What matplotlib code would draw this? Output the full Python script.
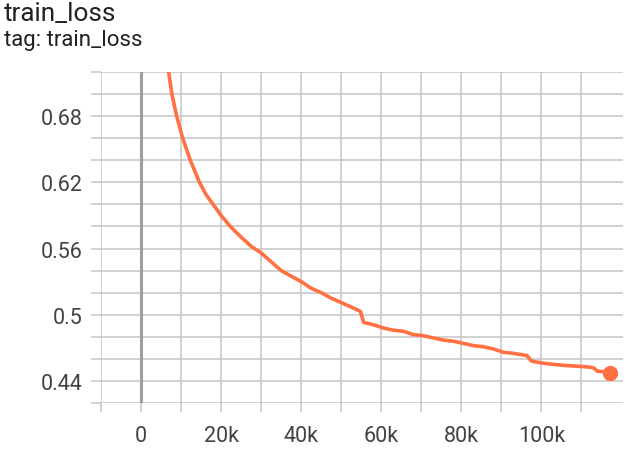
import matplotlib
matplotlib.use("Agg")
import matplotlib.pyplot as plt
import numpy as np

plt.rcParams['font.family'] = ['Roboto', 'DejaVu Sans']

# training step (thousands) and smoothed loss
steps_k = [6.3, 7.7, 8.9, 10.4, 12.3, 14.6, 16.2, 18.0, 20.0, 22.3, 24.5, 26.0, 27.5,
           30.0, 32.5, 35.0, 37.5, 40.0, 42.5, 45.0, 47.5, 50.0, 52.5, 54.8, 55.6,
           58.0, 60.5, 63.0, 65.5, 68.0, 70.5, 73.0, 75.5, 78.0, 80.5, 83.0, 85.5,
           88.0, 90.5, 93.0, 96.4, 97.5, 100.5, 103.0, 106.0, 110.5, 113.0, 113.9, 117.2]
loss = [0.735, 0.700, 0.680, 0.660, 0.640, 0.620, 0.609, 0.600, 0.590, 0.580, 0.572, 0.567, 0.562,
        0.556, 0.548, 0.540, 0.535, 0.530, 0.524, 0.520, 0.515, 0.511, 0.507, 0.503, 0.493,
        0.491, 0.488, 0.486, 0.485, 0.482, 0.481, 0.479, 0.477, 0.476, 0.474, 0.472, 0.471,
        0.469, 0.466, 0.465, 0.463, 0.458, 0.456, 0.455, 0.454, 0.453, 0.452, 0.449, 0.4475]

# every 10k gets a tick, only these carry a label
x_ticks = [-10000, 0, 10000, 20000, 30000, 40000, 50000, 60000, 70000, 80000, 90000, 100000, 110000]
x_labels = ['', '0', '', '20k', '', '40k', '', '60k', '', '80k', '', '100k', '']
y_ticks = [0.42, 0.44, 0.46, 0.48, 0.50, 0.52, 0.54, 0.56, 0.58, 0.60, 0.62, 0.64, 0.66, 0.68, 0.70, 0.72]
y_labels = ['', '0.44', '', '', '0.5', '', '', '0.56', '', '', '0.62', '', '', '0.68', '', '']

steps = np.array(steps_k) * 1000

fig = plt.figure(figsize=(6.29, 4.52), dpi=100)
ax = fig.add_axes([101 / 629, 48 / 452, 521.5 / 629, 331 / 452])

ax.set_xlim(-10000, 120250)
ax.set_ylim(0.42, 0.72)

ax.set_xticks(x_ticks)
ax.set_xticklabels(x_labels)
ax.set_yticks(y_ticks)
ax.set_yticklabels(y_labels)

for s in ax.spines.values():
    s.set_visible(False)

ax.grid(True, color='#c9c9c9', lw=1.2)
ax.set_axisbelow(True)
ax.tick_params(axis='x', length=6.5, width=1.2, color='#c9c9c9', pad=9,
               labelsize=15.5, labelcolor='#424242')
ax.tick_params(axis='y', length=7.2, width=1.2, color='#c9c9c9', pad=6,
               labelsize=15.5, labelcolor='#424242')

ax.axvline(0, color='#9e9e9e', lw=2.2, zorder=1.5)

ax.plot(steps, loss, color='#ff7043', lw=2.6, solid_joinstyle='round', zorder=3)
ax.plot(steps[-1], loss[-1], 'o', color='#ff7043', ms=10, zorder=4, clip_on=False)

fig.text(4 / 629, 1 - 21 / 452, 'train_loss', fontsize=18.8, color='#212121', va='baseline')
fig.text(4 / 629, 1 - 46 / 452, 'tag: train_loss', fontsize=16, color='#212121', va='baseline')

fig.savefig('out.png', dpi=100)
